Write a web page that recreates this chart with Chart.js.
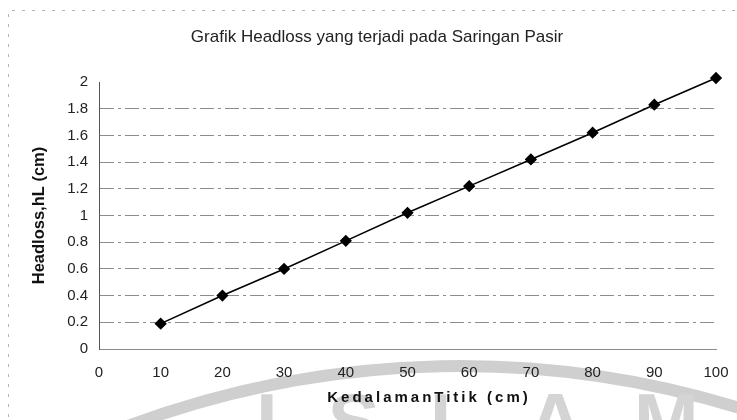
<!DOCTYPE html>
<html>
<head>
<meta charset="utf-8">
<script src="https://cdn.jsdelivr.net/npm/chart.js@4"></script>
<style>
  html, body { margin: 0; padding: 0; background: #fff; }
  #wrap { width: 737px; height: 420px; }
</style>
</head>
<body>
<div id="wrap"><canvas id="chart" width="737" height="420"></canvas></div>
<script>
// --- DATA ---
const depths = [10, 20, 30, 40, 50, 60, 70, 80, 90, 100];
const headloss = [0.19, 0.4, 0.6, 0.81, 1.02, 1.22, 1.42, 1.62, 1.83, 2.03];
const xTicks = [0, 10, 20, 30, 40, 50, 60, 70, 80, 90, 100];
const yTicks = [0, 0.2, 0.4, 0.6, 0.8, 1, 1.2, 1.4, 1.6, 1.8, 2];

const chartTitle = "Grafik Headloss yang terjadi pada Saringan Pasir";
const xTitle = "KedalamanTitik (cm)";
const yTitle = "Headloss,hL (cm)";

const FONT = "'Liberation Sans', Arial, sans-serif";

// --- SCAN DECOR (watermark, page frame, titles) ---
const scanDecor = {
    id: "scanDecor",
    beforeDraw(chart) {
        const ctx = chart.ctx;
        ctx.save();
        ctx.fillStyle = "#fff";
        ctx.fillRect(0, 0, chart.width, chart.height);

        // faint watermark behind the chart
        ctx.strokeStyle = "#cfcfcf";
        ctx.lineWidth = 12;
        ctx.beginPath();
        ctx.arc(460, 1316, 950, Math.PI * 1.5 - 0.37, Math.PI * 1.5 + 0.33);
        ctx.stroke();

        ctx.fillStyle = "#d4d4d4";
        ctx.font = "bold 78px " + FONT;
        ctx.textBaseline = "alphabetic";
        ctx.letterSpacing = "50px";
        ctx.fillText("ISLAM", 256, 448);
        ctx.letterSpacing = "0px";

        // dotted page frame
        ctx.strokeStyle = "#b5b5b5";
        ctx.lineWidth = 1;
        ctx.setLineDash([3, 7]);
        ctx.beginPath();
        ctx.moveTo(12, 10.5);
        ctx.lineTo(737, 10.5);
        ctx.moveTo(8.5, 14);
        ctx.lineTo(8.5, 420);
        ctx.stroke();
        ctx.restore();
    },
    afterDraw(chart) {
        const ctx = chart.ctx;
        ctx.save();
        ctx.textAlign = "center";
        ctx.textBaseline = "middle";

        // chart title
        ctx.fillStyle = "#222";
        ctx.font = "17px " + FONT;
        ctx.fillText(chartTitle, 377, 37);

        // x axis title, spaced out like the original
        ctx.fillStyle = "#111";
        ctx.font = "bold 15px " + FONT;
        ctx.letterSpacing = "3px";
        ctx.fillText(xTitle, 429, 398);
        ctx.restore();
    }
};

const ctx = document.getElementById("chart").getContext("2d");

new Chart(ctx, {
    type: "line",
    data: {
        datasets: [{
            data: depths.map((d, i) => ({ x: d, y: headloss[i] })),
            borderColor: "#000",
            backgroundColor: "#000",
            borderWidth: 1.6,
            pointStyle: "rectRot",
            pointRadius: 5,
            pointHoverRadius: 5,
            tension: 0,
            clip: false
        }]
    },
    options: {
        responsive: false,
        animation: false,
        layout: { padding: { left: 0, right: 21, top: 82, bottom: 0 } },
        plugins: {
            legend: { display: false },
            tooltip: { enabled: false },
            title: { display: false }
        },
        scales: {
            x: {
                type: "linear",
                min: 0,
                max: 100,
                afterBuildTicks: (s) => { s.ticks = xTicks.map(v => ({ value: v })); },
                afterFit: (s) => {
                    s.height = 71;
                    s.paddingLeft = 0;
                    s.paddingRight = 0;
                },
                ticks: {
                    color: "#222",
                    font: { family: FONT, size: 15 },
                    padding: 15,
                    maxRotation: 0
                },
                grid: { display: false, drawTicks: false },
                border: { display: true, color: "#8a8a8a", width: 1 }
            },
            y: {
                min: 0,
                max: 2,
                afterBuildTicks: (s) => { s.ticks = yTicks.map(v => ({ value: v })); },
                afterFit: (s) => { s.width = 99; },
                ticks: {
                    color: "#222",
                    font: { family: FONT, size: 15 },
                    padding: 11,
                    callback: (v) => String(+v.toFixed(1))
                },
                grid: {
                    drawTicks: false,
                    color: (c) => (c.tick && (c.tick.value === 2 || c.tick.value === 0)) ? "rgba(0,0,0,0)" : "#8c8c8c",
                    lineWidth: 1
                },
                border: { display: true, color: "#555", width: 1, dash: [14, 4, 3, 4] },
                title: {
                    display: true,
                    text: yTitle,
                    color: "#111",
                    font: { family: FONT, size: 16.5, weight: "bold" },
                    padding: { top: 30, bottom: 0 }
                }
            }
        }
    },
    plugins: [scanDecor]
});
</script>
</body>
</html>
